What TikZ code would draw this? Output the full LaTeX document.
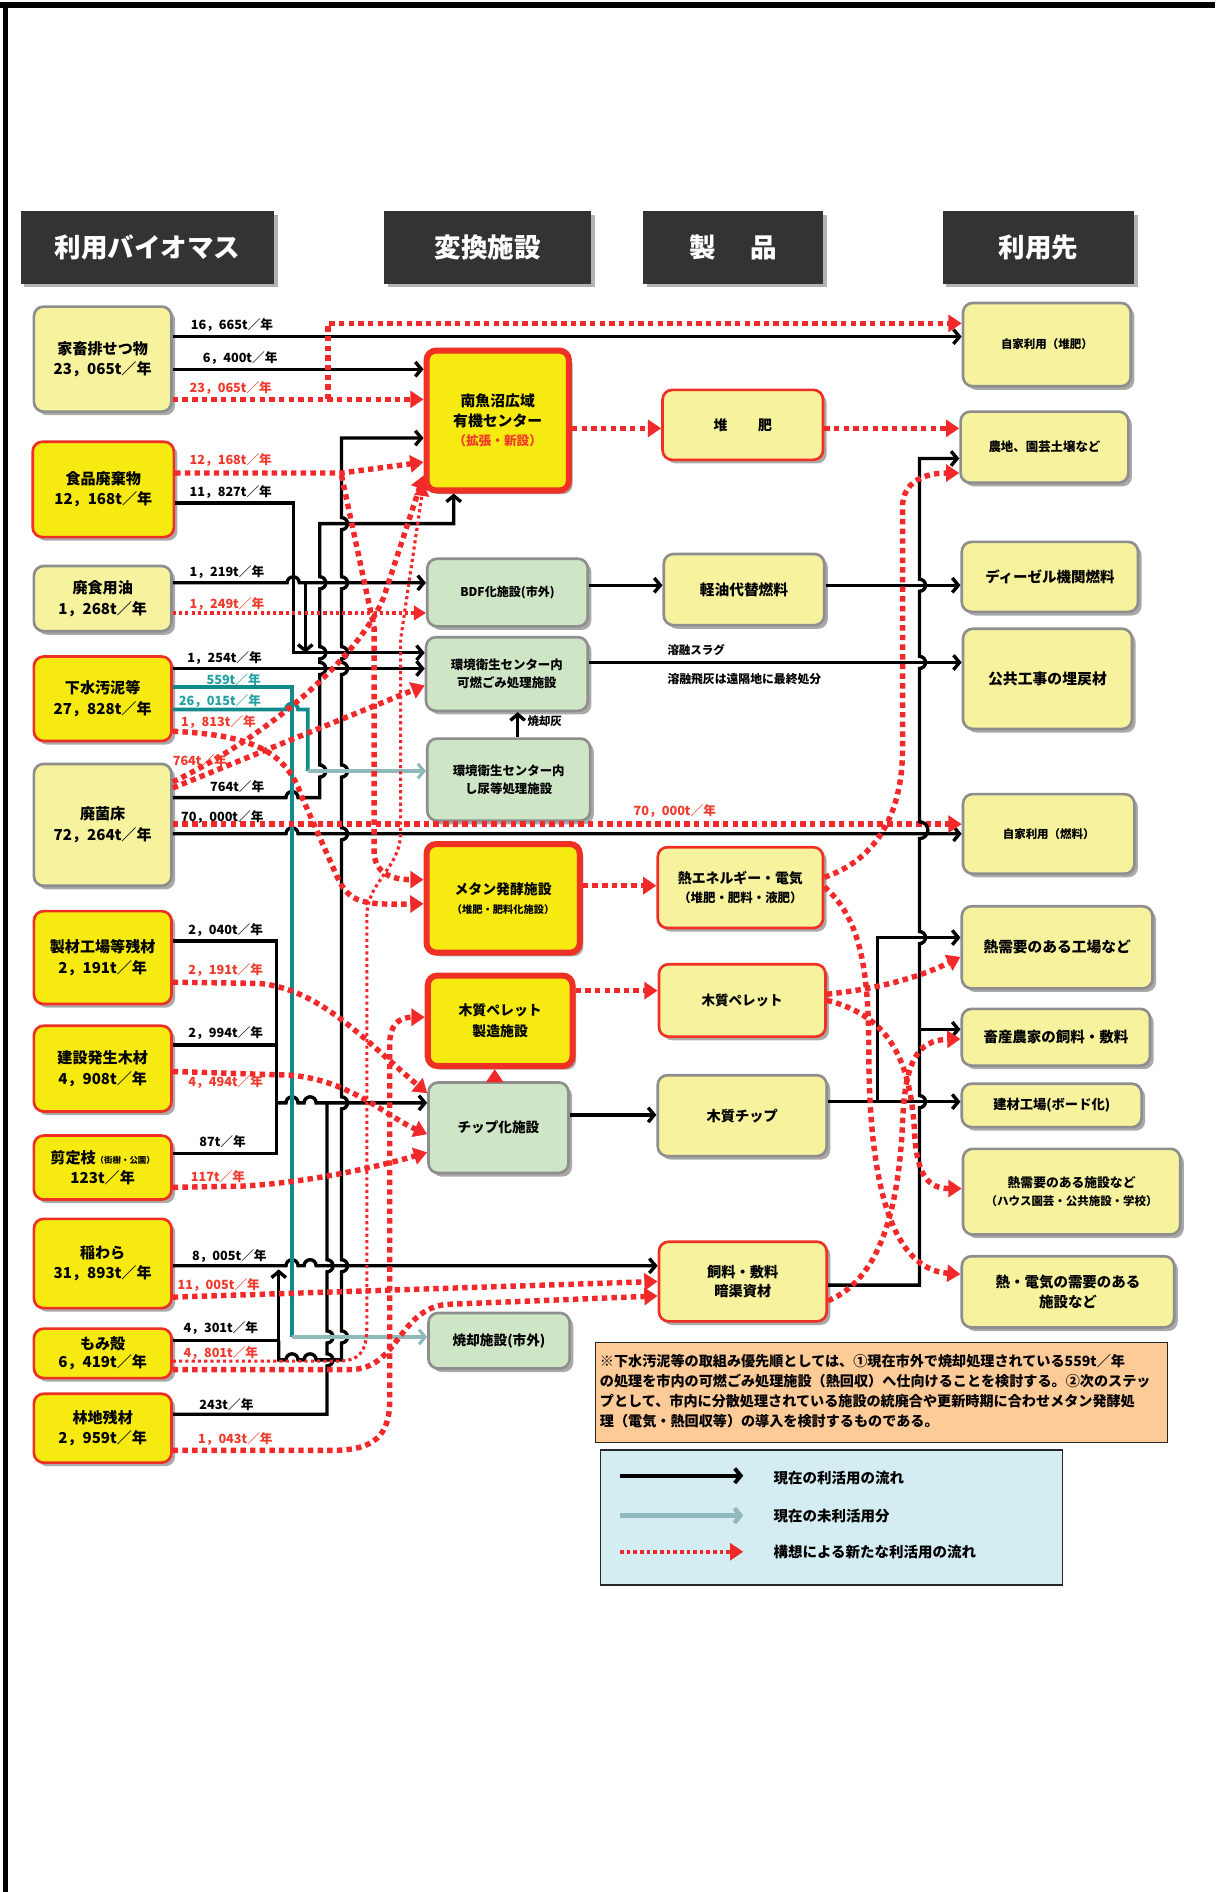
\documentclass[tikz,border=0pt]{standalone}
\usepackage{fontspec}
\setmainfont{Noto Sans CJK JP}
\usetikzlibrary{arrows.meta,shadows,calc}
\definecolor{lightyel}{HTML}{F7F29E}
\definecolor{brightyel}{HTML}{F6EA10}
\definecolor{boxred}{HTML}{EE3124}
\definecolor{dotred}{HTML}{F2292A}
\definecolor{boxgreen}{HTML}{CFE6C6}
\definecolor{bordergray}{HTML}{8E8E8E}
\definecolor{hdrgray}{HTML}{333333}
\definecolor{notebg}{HTML}{FDCB98}
\definecolor{legbg}{HTML}{D3EDF3}
\definecolor{tealc}{HTML}{118A8B}
\definecolor{ltealc}{HTML}{8FB9BB}
\definecolor{labred}{HTML}{F0392B}
\definecolor{labteal}{HTML}{24A0A0}
\newcommand\mybox[7]{\node[#6, anchor=north west, minimum width={(#4-#2)*1pt}, minimum height={(#5-#3)*1pt}] (#1) at (#2,#3) {#7};}
\newcommand\fz[1]{\fontsize{#1}{15}\selectfont}
\tikzset{
  shad/.style={drop shadow={shadow xshift=3pt,shadow yshift=-3pt,fill=black!45,opacity=0.75}},
  bx/.style={draw=bordergray, line width=2.2pt, rounded corners=8pt, align=center, inner sep=1pt, shad, font=\bfseries\fontsize{12.5}{17}\selectfont},
  lbx/.style={bx, fill=lightyel},
  bbx/.style={bx, fill=brightyel, draw=boxred},
  kbx/.style={bbx, line width=5pt},
  gbx/.style={bx, fill=boxgreen},
  lrbx/.style={bx, fill=lightyel, draw=boxred},
  hd/.style={fill=hdrgray, text=white, font=\bfseries\fontsize{22}{24}\selectfont, drop shadow={shadow xshift=3pt,shadow yshift=-3pt,fill=black!30,opacity=1}},
  blk/.style={draw=black, line width=2.8pt, -{Straight Barb[length=5pt,width=12pt]}},
  blkl/.style={draw=black, line width=2.8pt},
  rdash/.style={draw=dotred, line width=4.5pt, dash pattern=on 4.5pt off 3.5pt, -{Triangle[length=11pt,width=14pt]}},
  rdashl/.style={draw=dotred, line width=4.5pt, dash pattern=on 4.5pt off 3.5pt},
  rfine/.style={draw=dotred, line width=2.6pt, dash pattern=on 2.6pt off 2.6pt, -{Triangle[length=10pt,width=12pt]}},
  tealln/.style={draw=tealc, line width=3.2pt},
  lteal/.style={draw=ltealc, line width=2.6pt, -{Straight Barb[length=5pt,width=12pt]}},
  lb/.style={anchor=west, inner sep=0pt, font=\bfseries\fontsize{10.5}{12}\selectfont},
  hp/.style={},
}
\begin{document}
\begin{tikzpicture}[x=1pt,y=-1pt, line join=miter]
\useasboundingbox (0,0) rectangle (1007,1568);
% frame
\draw[line width=5pt] (0,4.5) -- (1007,4.5);
\draw[line width=4.5pt] (4.5,2) -- (4.5,1568);
% headers
\mybox{H1}{17}{175}{227}{235}{hd}{利用バイオマス}
\mybox{H2}{318}{175}{490}{235}{hd}{変換施設}
\mybox{H3}{533}{175}{682}{235}{hd}{製\hspace{1.3em}品}
\mybox{H4}{781}{175}{940}{235}{hd}{利用先}
% sources
\mybox{S1}{27}{253}{141}{340}{lbx}{家畜排せつ物\\23，065t／年}
\mybox{S2}{26}{365}{143}{444}{bbx}{食品廃棄物\\12，168t／年}
\mybox{S3}{27}{468}{141}{522}{lbx}{廃食用油\\1，268t／年}
\mybox{S4}{27}{543}{141}{613}{bbx}{下水汚泥等\\27，828t／年}
\mybox{S5}{27}{632}{141}{733}{lbx}{廃菌床\\72，264t／年}
\mybox{S6}{27}{754}{141}{831}{bbx}{製材工場等残材\\2，191t／年}
\mybox{S7}{27}{849}{141}{920}{bbx}{建設発生木材\\4，908t／年}
\mybox{S8}{27}{940}{141}{993}{bbx}{剪定枝{\fontsize{7}{9}\selectfont（街樹・公園）}\\123t／年}
\mybox{S9}{27}{1009}{141}{1083}{bbx}{稲わら\\31，893t／年}
\mybox{S10}{27}{1100}{141}{1141}{bbx,font=\bfseries\fontsize{12.5}{15}\selectfont}{もみ殻\\6，419t／年}
\mybox{S11}{27}{1154}{141}{1211}{bbx}{林地残材\\2，959t／年}
% conversion
\mybox{C1}{351}{288}{469}{404}{kbx,font=\bfseries\fontsize{12.3}{16}\selectfont}{南魚沼広域\\有機センター\\{\color{labred}\fontsize{10.5}{14}\selectfont（拡張・新設）}}
\mybox{C2}{353}{462}{486}{518}{gbx,font=\bfseries\fontsize{10}{13}\selectfont}{BDF化施設(市外)}
\mybox{C3}{352}{527}{486}{588}{gbx,font=\bfseries\fontsize{10.3}{15}\selectfont}{環境衛生センター内\\可燃ごみ処理施設}
\mybox{C4}{353}{611}{488}{679}{gbx,font=\bfseries\fontsize{10.3}{15}\selectfont}{環境衛生センター内\\し尿等処理施設}
\mybox{C5}{351}{697}{478}{787}{kbx,font=\bfseries\fontsize{11.5}{16}\selectfont}{メタン発酵施設\\{\fontsize{8.5}{11}\selectfont（堆肥・肥料化施設）}}
\mybox{C6}{352}{806}{472}{881}{kbx,font=\bfseries\fontsize{11.5}{17}\selectfont}{木質ペレット\\製造施設}
\mybox{C7}{354}{896}{470}{971}{gbx,font=\bfseries\fontsize{11.3}{15}\selectfont}{チップ化施設}
\mybox{C8}{354}{1087}{471}{1133}{gbx,font=\bfseries\fontsize{11.3}{15}\selectfont}{焼却施設(市外)}
% products
\mybox{P1}{548}{322}{681}{380}{lrbx,font=\bfseries\fontsize{11.5}{15}\selectfont}{堆\hspace{2.2em}肥}
\mybox{P2}{549}{458}{682}{517}{lbx,font=\bfseries\fontsize{12.2}{15}\selectfont}{軽油代替燃料}
\mybox{P3}{544}{701}{681}{768}{lrbx,font=\bfseries\fontsize{11.5}{16}\selectfont}{熱エネルギー・電気\\{\fontsize{10.3}{14}\selectfont（堆肥・肥料・液肥）}}
\mybox{P4}{545}{798}{683}{858}{lrbx,font=\bfseries\fontsize{11.2}{15}\selectfont}{木質ペレット}
\mybox{P5}{544}{890}{684}{957}{lbx,font=\bfseries\fontsize{11.8}{15}\selectfont}{木質チップ}
\mybox{P6}{545}{1028}{684}{1094}{lrbx,font=\bfseries\fontsize{11.8}{16}\selectfont}{飼料・敷料\\暗渠資材}
% destinations
\mybox{D1}{797}{250}{936}{319}{lbx,font=\bfseries\fontsize{9.5}{13}\selectfont}{自家利用（堆肥）}
\mybox{D2}{795}{340}{934}{399}{lbx,font=\bfseries\fontsize{10.3}{13}\selectfont}{農地、園芸土壌など}
\mybox{D3}{796}{448}{942}{506}{lbx,font=\bfseries\fontsize{12}{15}\selectfont}{ディーゼル機関燃料}
\mybox{D4}{797}{520}{937}{603}{lbx,font=\bfseries\fontsize{12.3}{15}\selectfont}{公共工事の埋戻材}
\mybox{D5}{797}{657}{939}{723}{lbx,font=\bfseries\fontsize{9.5}{13}\selectfont}{自家利用（燃料）}
\mybox{D6}{796}{750}{954}{818}{lbx,font=\bfseries\fontsize{12.2}{15}\selectfont}{熱需要のある工場など}
\mybox{D7}{796}{835}{952}{882}{lbx,font=\bfseries\fontsize{12}{15}\selectfont}{畜産農家の飼料・敷料}
\mybox{D8}{796}{897}{945}{933}{lbx,font=\bfseries\fontsize{11}{14}\selectfont}{建材工場(ボード化)}
\mybox{D9}{797}{951}{977}{1022}{lbx,font=\bfseries\fontsize{10.6}{15}\selectfont}{熱需要のある施設など\\{\fontsize{9.5}{13}\selectfont（ハウス園芸・公共施設・学校）}}
\mybox{D10}{796}{1040}{972}{1099}{lbx,font=\bfseries\fontsize{12}{17}\selectfont}{熱・電気の需要のある\\施設など}
% ---------- black flows (left) ----------
\draw[blk] (S1.east |- 0,279) -- (D1.west |- 0,279);
\draw[blk] (S1.east |- 0,306) -- (C1.west |- 0,306);
\draw[blk] (S2.east |- 0,417) -- (243,417) -- (243,541) -- (C3.west |- 0,541);
\draw[blk] (S3.east |- 0,483) -- (238,483) arc[start angle=180,end angle=360,radius=5] -- (C2.west |- 0,483);
\draw[blk] (253,483) -- (253,541);
\draw[blk] (S4.east |- 0,554) -- (C3.west |- 0,554);
\draw[blk] (S5.east |- 0,661) -- (237,661) arc[start angle=180,end angle=360,radius=5] -- (265,661)
  -- (265,644) arc[start angle=90,end angle=-90,radius=5]
  -- (265,559) arc[start angle=90,end angle=-90,radius=5]
  -- (265,546) arc[start angle=90,end angle=-90,radius=5]
  -- (265,488) arc[start angle=90,end angle=-90,radius=5]
  -- (265,434) -- (376,434) -- (C1.south -| 376,0);
\draw[blk] (S5.east |- 0,691) -- (237,691) arc[start angle=180,end angle=360,radius=5] -- (D5.west |- 0,691);
% wood chip bus
\draw[blkl] (S6.east |- 0,780) -- (229,780) -- (229,956) -- (S8.east |- 0,956);
\draw[blkl] (S7.east |- 0,866) -- (229,866);
\draw[blk] (229,914) -- (237,914) arc[start angle=180,end angle=360,radius=5] -- (252,914) arc[start angle=180,end angle=360,radius=5] -- (C7.west |- 0,914);
\draw[blkl] (S11.east |- 0,1172) -- (271,1172)
  -- (271,1132) arc[start angle=90,end angle=-90,radius=5]
  -- (271,1113) arc[start angle=90,end angle=-90,radius=5]
  -- (271,1054) arc[start angle=90,end angle=-90,radius=5]
  -- (271,914);
% rice straw / husk
\draw[blk] (S9.east |- 0,1049) -- (237,1049) arc[start angle=180,end angle=360,radius=5] -- (252,1049) arc[start angle=180,end angle=360,radius=5] -- (P6.west |- 0,1049);
\draw[blkl] (S10.east |- 0,1111) -- (231,1111);
\draw[blk] (231,1127) -- (231,1052);
\draw[blk] (231,1111) -- (231,1127) -- (237,1127) arc[start angle=180,end angle=360,radius=5] -- (252,1127) arc[start angle=180,end angle=360,radius=5] -- (283,1127)
  -- (283,1113) arc[start angle=90,end angle=-90,radius=5]
  -- (283,1054) arc[start angle=90,end angle=-90,radius=5]
  -- (283,919) arc[start angle=90,end angle=-90,radius=5]
  -- (283,696) arc[start angle=90,end angle=-90,radius=5]
  -- (283,644) arc[start angle=90,end angle=-90,radius=5]
  -- (283,559) arc[start angle=90,end angle=-90,radius=5]
  -- (283,546) arc[start angle=90,end angle=-90,radius=5]
  -- (283,488) arc[start angle=90,end angle=-90,radius=5]
  -- (283,439) arc[start angle=90,end angle=-90,radius=5]
  -- (283,363) -- (C1.west |- 0,363);
% teal
\draw[tealln] (S4.east |- 0,569) -- (242,569) -- (242,1108);
\draw[lteal] (242,1108) -- (C8.west |- 0,1108);
\draw[tealln] (S4.east |- 0,588) -- (237,588) arc[start angle=180,end angle=360,radius=5] -- (255,588) -- (255,639);
\draw[lteal] (255,639) -- (C4.west |- 0,639);
% ---------- red dotted flows (left) ----------
\draw[rdash] (S1.east |- 0,331) -- (C1.west |- 0,331);
\draw[rdash] (272,331) -- (272,268) -- (D1.west |- 0,268);
\draw[rdash] (S2.east |- 0,392) -- (283,392) -- (C1.west |- 0,383);
\draw[rdash] (283,394) -- (310,520) -- (310,705) .. controls (310,722) and (322,729) .. (C5.west |- 0,729);
\draw[rfine] (S3.east |- 0,508) -- (C2.west |- 0,508);
\draw[rdash] (S4.east |- 0,606) .. controls (200,609) and (236,618) .. (250,660) -- (280,728) .. controls (290,748) and (300,750) .. (C5.west |- 0,749);
\draw[rdash] (S5.east |- 0,653) -- (C3.west |- 0,568);
\draw[rdash] (S5.east |- 0,648) .. controls (230,606) and (300,540) .. (318,495) -- (C1.west |- 0,394);
\draw[rdash] (S5.east |- 0,683) -- (D5.west |- 0,683);
\draw[rfine] (S10.east |- 0,1128) -- (280,1128) .. controls (298,1128) and (304,1120) .. (304,1100) -- (304,760) .. controls (304,730) and (332,720) .. (332,690) -- (332,530) -- (C1.west |- 0,401);
\draw[rdash] (S11.east |- 0,1202) -- (275,1202) .. controls (310,1202) and (323,1190) .. (323,1160) -- (323,865) .. controls (323,850) and (330,843) .. (C6.west |- 0,843);
\draw[rdash] (S6.east |- 0,814) -- (215,815) .. controls (265,820) and (300,860) .. (C7.west |- 0,906);
\draw[rdash] (S7.east |- 0,888) -- (240,891) .. controls (290,895) and (320,925) .. (C7.west |- 0,940);
\draw[rdash] (S8.east |- 0,984) -- (200,983) .. controls (260,980) and (320,965) .. (C7.west |- 0,955);
\draw[rdash] (S9.east |- 0,1075) -- (P6.west |- 0,1062);
\draw[rdash] (S10.east |- 0,1135) -- (290,1135) .. controls (330,1135) and (330,1085) .. (370,1081) -- (P6.west |- 0,1074);
% ---------- right side black ----------
\draw[blk] (C2.east |- 0,485) -- (P2.west |- 0,485);
\draw[blk] (P2.east |- 0,485) -- (D3.west |- 0,485);
\draw[blk] (C3.east |- 0,549) -- (D4.west |- 0,549);
\draw[blk] (C4.north -| 429,0) -- (C3.south -| 429,0);
\draw[blk] (C7.east |- 0,924) -- (P5.west |- 0,924);
\draw[blk] (P5.east |- 0,913) -- (D8.west |- 0,913);
\draw[blk] (727,913) -- (727,777) -- (D6.west |- 0,777);
\draw[blk] (P6.east |- 0,1065) -- (762,1065)
  -- (762,918) arc[start angle=90,end angle=-90,radius=5]
  -- (762,782) arc[start angle=90,end angle=-90,radius=5]
  -- (762,695) arc[start angle=90,end angle=-90,radius=7]
  -- (762,554) arc[start angle=90,end angle=-90,radius=5]
  -- (762,490) arc[start angle=90,end angle=-90,radius=5]
  -- (762,380) -- (D2.west |- 0,380);
\draw[blk] (762,853) -- (D7.west |- 0,853);
% ---------- right side red ----------
\draw[rdash] (C1.east |- 0,355) -- (P1.west |- 0,355);
\draw[rdash] (P1.east |- 0,355) -- (D2.west |- 0,355);
\draw[rdash] (C5.east |- 0,734) -- (P3.west |- 0,734);
\draw[rdash] (C6.east |- 0,821) -- (P4.west |- 0,821);
\draw[rdash] (C7.north -| 410,0) -- (C6.south -| 410,0);
\draw[rdash] (P3.east |- 0,727) .. controls (722,714) and (748,680) .. (748,620) -- (748,420) .. controls (748,400) and (765,392) .. (D2.west |- 0,392);
\draw[rdash] (P3.east |- 0,735) .. controls (712,760) and (720,800) .. (720,870) .. controls (720,990) and (742,1052) .. (D10.west |- 0,1056);
\draw[rdash] (P4.east |- 0,824) .. controls (722,820) and (758,812) .. (D6.west |- 0,793);
\draw[rdash] (P4.east |- 0,829) .. controls (738,842) and (755,880) .. (758,940) .. controls (760,975) and (770,985) .. (D9.west |- 0,985);
\draw[rdash] (P6.east |- 0,1078) .. controls (730,1060) and (745,1000) .. (748,930) .. controls (750,880) and (760,862) .. (D7.west |- 0,861);
% ---------- labels ----------
\node[lb] (l1) at (158,269) {16，665t／年};
\node[lb] (l2) at (168,297) {6，400t／年};
\node[lb,text=labred] (l3) at (157,322) {23，065t／年};
\node[lb,text=labred] (l4) at (157,381) {12，168t／年};
\node[lb] (l5) at (157,408) {11，827t／年};
\node[lb] (l6) at (157,474) {1，219t／年};
\node[lb,text=labred] (l7) at (157,501) {1，249t／年};
\node[lb] (l8) at (155,545) {1，254t／年};
\node[lb,text=labteal] (l9) at (171,563) {559t／年};
\node[lb,text=labteal] (l10) at (148,581) {26，015t／年};
\node[lb,text=labred] (l11) at (150,598) {1，813t／年};
\node[lb,text=labred] (l12) at (143,630) {764t／年};
\node[lb] (l13) at (174,652) {764t／年};
\node[lb] (l14) at (150,677) {70，000t／年};
\node[lb,text=labred] (l15) at (525,672) {70，000t／年};
\node[lb] (l16) at (156,771) {2，040t／年};
\node[lb,text=labred] (l17) at (156,804) {2，191t／年};
\node[lb] (l18) at (156,856) {2，994t／年};
\node[lb,text=labred] (l19) at (156,897) {4，494t／年};
\node[lb] (l20) at (165,946) {87t／年};
\node[lb,text=labred] (l21) at (158,975) {117t／年};
\node[lb] (l22) at (159,1041) {8，005t／年};
\node[lb,text=labred] (l23) at (147,1065) {11，005t／年};
\node[lb] (l24) at (152,1101) {4，301t／年};
\node[lb,text=labred] (l25) at (152,1121) {4，801t／年};
\node[lb] (l26) at (165,1164) {243t／年};
\node[lb,text=labred] (l27) at (164,1193) {1，043t／年};
\node[lb,font=\bfseries\fontsize{9.5}{11}\selectfont] (l28) at (437,598) {焼却灰};
\node[lb,font=\bfseries\fontsize{9.5}{11}\selectfont] (l29) at (553,539) {溶融スラグ};
\node[lb,font=\bfseries\fontsize{9.8}{11}\selectfont] (l30) at (553,563) {溶融飛灰は遠隔地に最終処分};
% ---------- note ----------
\node[anchor=north west, draw=black!85, line width=1.2pt, fill=notebg, minimum width=474pt, minimum height=83pt, inner sep=0pt] (NOTE) at (493,1112) {};
\node[anchor=north west, inner sep=0pt, align=left, font=\bfseries\fontsize{11.7}{16.6}\selectfont] (NOTET) at (497,1122) {※下水汚泥等の取組み優先順としては、①現在市外で焼却処理されている559t／年\\の処理を市内の可燃ごみ処理施設（熱回収）へ仕向けることを検討する。②次のステッ\\プとして、市内に分散処理されている施設の統廃合や更新時期に合わせメタン発酵処\\理（電気・熱回収等）の導入を検討するものである。};
% ---------- legend ----------
\node[anchor=north west, draw=black!85, line width=1.2pt, fill=legbg, minimum width=383pt, minimum height=112pt, inner sep=0pt] (LEG) at (497,1201) {};
\coordinate (la1) at (514,1223); \coordinate (la2) at (616,1223);
\coordinate (lb1) at (514,1256); \coordinate (lb2) at (616,1256);
\coordinate (lc1) at (514,1286); \coordinate (lc2) at (616,1286);
\draw[blk, line width=3.2pt] (la1) -- (la2);
\draw[lteal, line width=3.6pt] (lb1) -- (lb2);
\draw[rdash, line width=3.5pt, dash pattern=on 3pt off 2.5pt] (lc1) -- (lc2);
\node[lb,font=\bfseries\fontsize{12}{14}\selectfont] (lt1) at (641,1225) {現在の利活用の流れ};
\node[lb,font=\bfseries\fontsize{12}{14}\selectfont] (lt2) at (641,1256) {現在の未利活用分};
\node[lb,font=\bfseries\fontsize{12}{14}\selectfont] (lt3) at (641,1286) {構想による新たな利活用の流れ};
\end{tikzpicture}
\end{document}
